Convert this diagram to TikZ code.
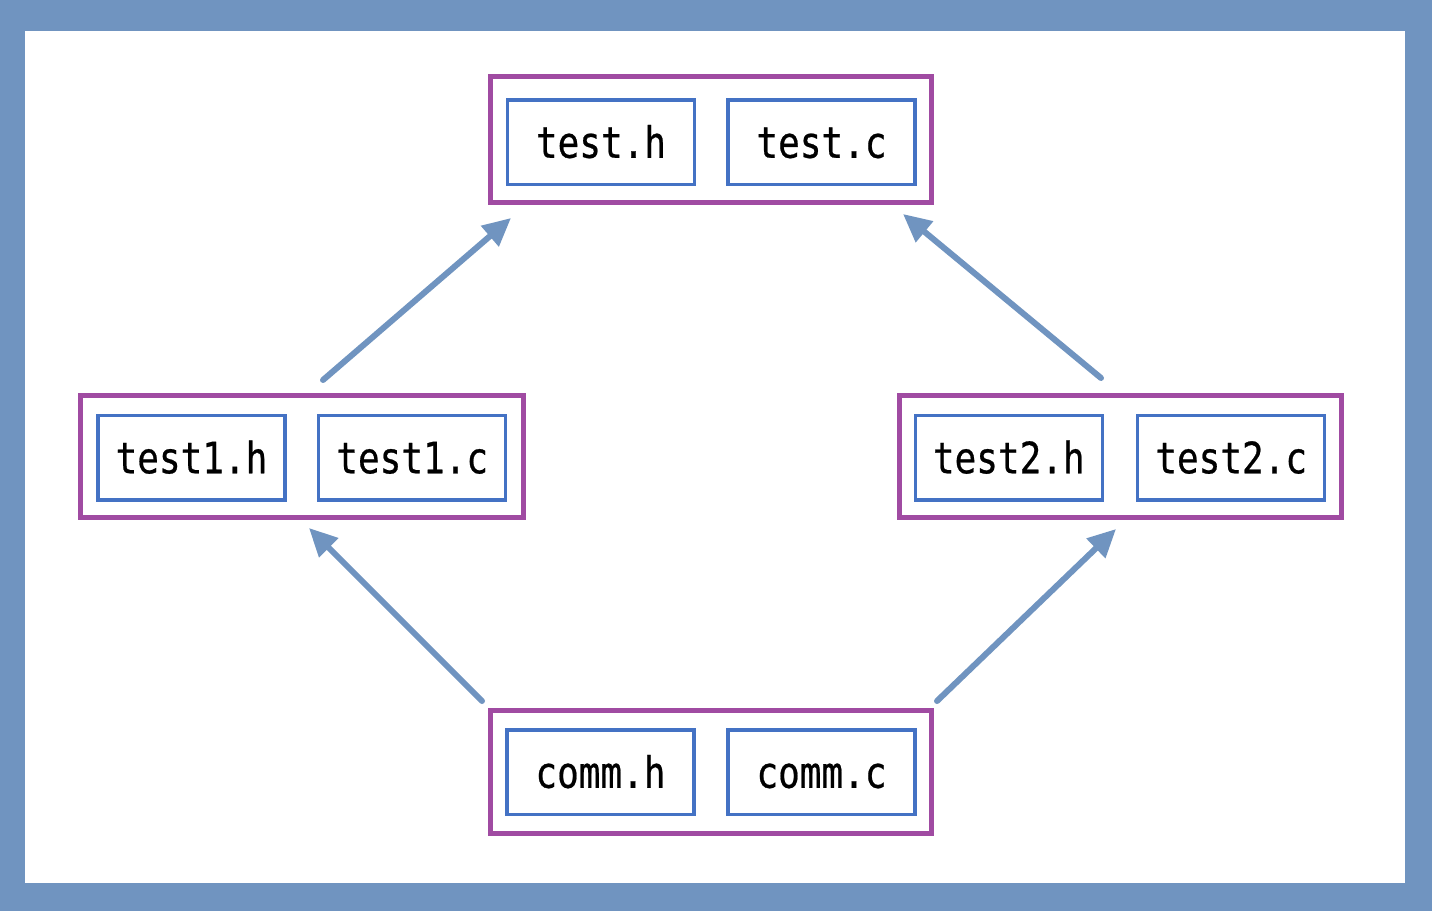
\documentclass[tikz,border=0pt]{standalone}
\usepackage{fontspec}
\newfontfamily\filefont{DejaVu Sans Mono}[FakeBold=0.6]
\usetikzlibrary{arrows.meta}
\definecolor{framec}{RGB}{112,148,192}
\definecolor{groupc}{RGB}{160,75,162}
\definecolor{filec}{RGB}{68,114,196}
\definecolor{arrowc}{RGB}{112,148,192}
\tikzset{
  groupbox/.style={draw=groupc, line width=5pt, inner sep=0pt, outer sep=0pt, anchor=north west},
  filebox/.style={draw=filec, line width=3.3pt, minimum width=187pt, minimum height=84.5pt, inner sep=0pt, outer sep=0pt, anchor=north west,
    text height=33pt, text depth=2pt, font=\filefont\fontsize{36}{40}\selectfont},
  deparrow/.style={draw=arrowc, line width=6pt, line cap=round, -{Triangle[length=28pt,width=26pt]}}
}
\newcommand{\ftxt}[1]{\scalebox{1}[1.2]{#1}}
\begin{document}
\begin{tikzpicture}[x=1pt,y=-1pt]
\fill[framec] (0,0) rectangle (1432,911);
\fill[white] (25,31) rectangle (1405,883);
\useasboundingbox (0,0) rectangle (1432,911);
% groups
\node[groupbox, minimum width=441pt, minimum height=126pt] (gtop) at (490,76.5) {};
\node[groupbox, minimum width=443pt, minimum height=122.5pt] (gleft) at (80,395) {};
\node[groupbox, minimum width=442pt, minimum height=122.5pt] (gright) at (899.5,395) {};
\node[groupbox, minimum width=441pt, minimum height=123.5pt] (gbot) at (490,710) {};
% files
\node[filebox] (testh) at (507.5,100) {\ftxt{test.h}};
\node[filebox] (testc) at (728,100) {\ftxt{test.c}};
\node[filebox] (test1h) at (98,415.5) {\ftxt{test1.h}};
\node[filebox] (test1c) at (318.7,415.5) {\ftxt{test1.c}};
\node[filebox] (test2h) at (915.3,415.5) {\ftxt{test2.h}};
\node[filebox] (test2c) at (1137.7,415.5) {\ftxt{test2.c}};
\node[filebox] (commh) at (507,730) {\ftxt{comm.h}};
\node[filebox] (commc) at (728,730) {\ftxt{comm.c}};
% arrow end points
\coordinate (a1s) at (323,380);
\coordinate (a1e) at (511,218);
\coordinate (a2s) at (1101,378);
\coordinate (a2e) at (903,214);
\coordinate (a3s) at (482,701);
\coordinate (a3e) at (309,528);
\coordinate (a4s) at (937,701);
\coordinate (a4e) at (1116,529);
\draw[deparrow] (a1s) -- (a1e);
\draw[deparrow] (a2s) -- (a2e);
\draw[deparrow] (a3s) -- (a3e);
\draw[deparrow] (a4s) -- (a4e);
\end{tikzpicture}
\end{document}
